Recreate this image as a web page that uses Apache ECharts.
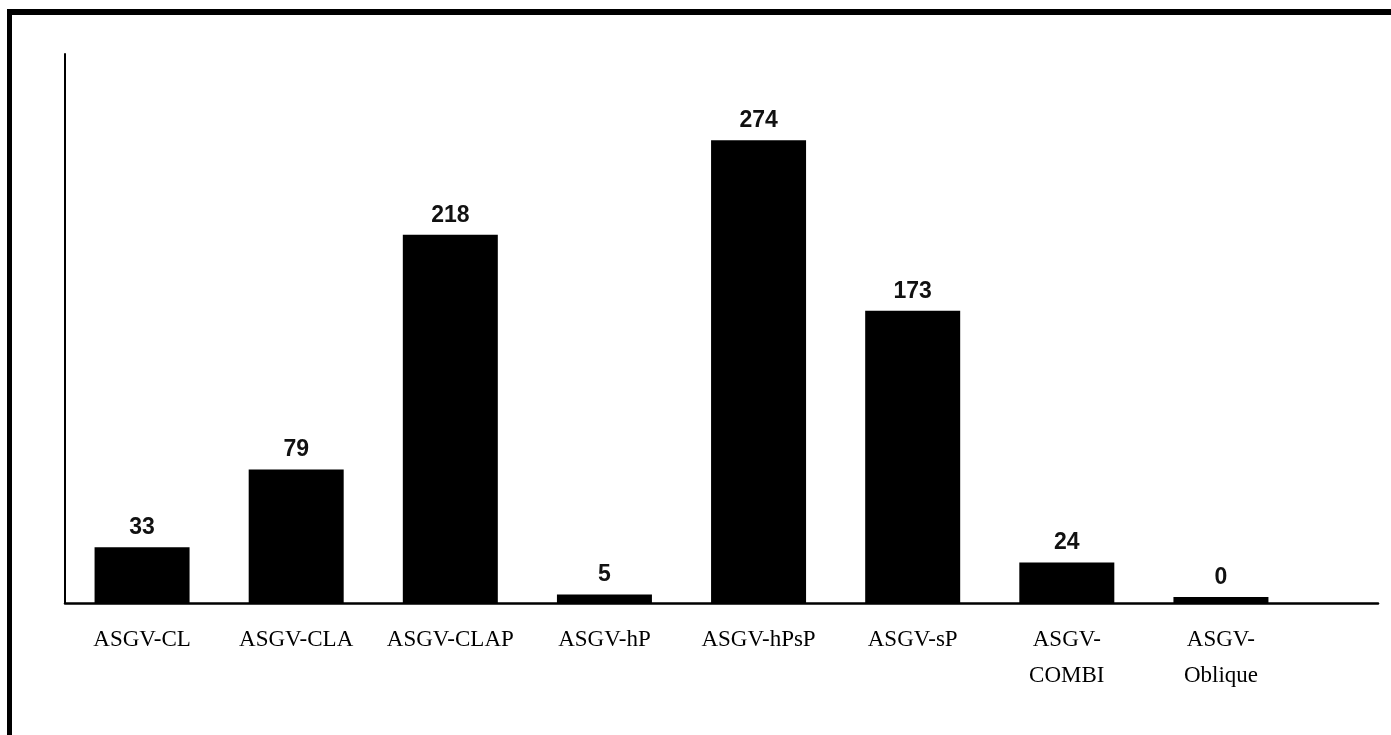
<!DOCTYPE html>
<html>
<head>
<meta charset="utf-8">
<script src="https://cdn.jsdelivr.net/npm/echarts@6/dist/echarts.min.js"></script>
<style>
  html, body { margin: 0; padding: 0; background: #fff; overflow: hidden; }
  #frame { position: absolute; left: 7px; top: 9px; width: 1500px; height: 800px;
           border-left: 5px solid #000; border-top: 6px solid #000; box-sizing: border-box; }
  #chart { position: absolute; left: 0; top: 0; width: 1391px; height: 735px; }
</style>
</head>
<body>
<div id="frame"></div>
<div id="chart"></div>
<script>
const categories = ['ASGV-CL', 'ASGV-CLA', 'ASGV-CLAP', 'ASGV-hP', 'ASGV-hPsP', 'ASGV-sP', 'ASGV-\nCOMBI', 'ASGV-\nOblique'];
const counts = [33, 79, 218, 5, 274, 173, 24, 0];

const chart = echarts.init(document.getElementById('chart'), null, { renderer: 'canvas' });
chart.setOption({
  backgroundColor: 'transparent',
  animation: false,
  grid: [
    { left: 65, top: 54, width: 1233, height: 549, containLabel: false },
    { left: 65, top: 54, width: 1313, height: 549, containLabel: false }
  ],
  xAxis: [
    {
      type: 'category', gridIndex: 0, data: categories,
      axisLine: { show: false },
      axisTick: { show: false },
      axisLabel: {
        interval: 0, margin: 19, color: '#000',
        fontFamily: 'Liberation Serif', fontSize: 23, lineHeight: 36
      }
    },
    {
      type: 'value', gridIndex: 1, min: 0, max: 1,
      axisLine: { show: true, lineStyle: { color: '#000', width: 2.5 } },
      axisTick: { show: false }, axisLabel: { show: false }, splitLine: { show: false }
    }
  ],
  yAxis: [
    {
      type: 'value', gridIndex: 0, min: 0, max: 325,
      axisLine: { show: true, lineStyle: { color: '#000', width: 2 } },
      axisTick: { show: false }, axisLabel: { show: false }, splitLine: { show: false }
    },
    {
      type: 'value', gridIndex: 1, min: 0, max: 1, show: false
    }
  ],
  series: [{
    type: 'bar', xAxisIndex: 0, yAxisIndex: 0,
    data: counts,
    barWidth: 95,
    barMinHeight: 6,
    itemStyle: { color: '#000' },
    label: {
      show: true, position: 'top', distance: 8, color: '#111',
      fontFamily: 'Liberation Sans', fontWeight: 'bold', fontSize: 23
    }
  }]
});
</script>
</body>
</html>
